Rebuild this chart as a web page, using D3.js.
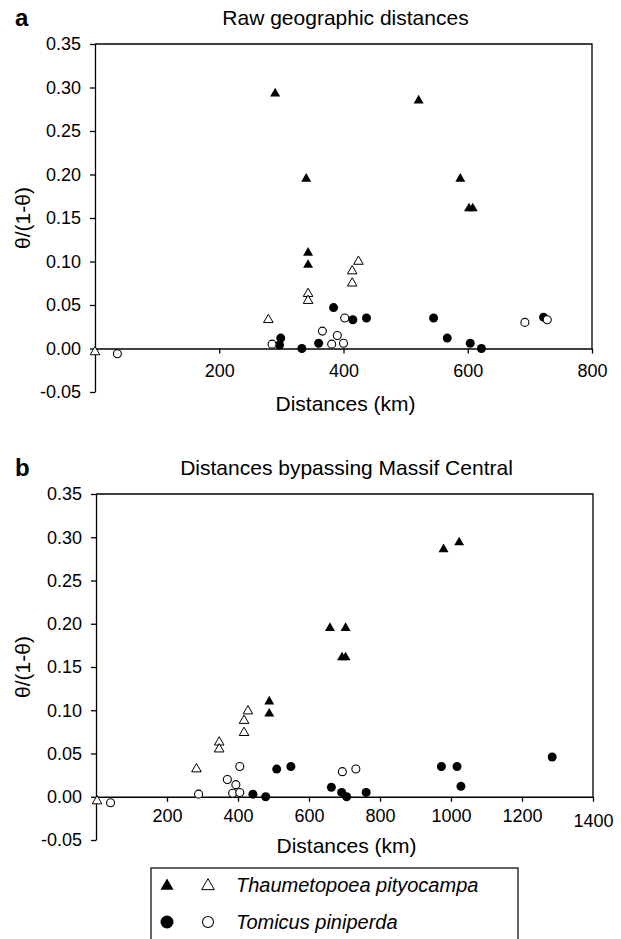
<!DOCTYPE html>
<html lang="en">
<head>
  <meta charset="UTF-8">
  <title>Distances</title>
  <style>
    body { margin: 0; background: #fff; }
    svg { display: block; font-family: "Liberation Sans", Arial, sans-serif; }
  </style>
</head>
<body>
  <svg id="grafico" width="621" height="939"></svg>

  <script src="https://d3js.org/d3.v7.min.js"></script>
  <script>
    // valores: [distancia km, theta/(1-theta)]
    const rawPityFilled = [[290,0.293],[340,0.195],[343,0.110],[343,0.096],[521,0.285],[588,0.195],[602,0.161],[608,0.161]];
    const rawPityOpen = [[0,-0.004],[279,0.033],[343,0.063],[343,0.055],[414,0.089],[414,0.075],[424,0.100]];
    const rawTomFilled = [[297,0.004],[299,0.012],[333,0.000],[360,0.006],[384,0.047],[415,0.033],[437,0.035],[545,0.035],[567,0.012],[604,0.006],[622,0.000],[722,0.036]];
    const rawTomOpen = [[36,-0.006],[285,0.005],[366,0.020],[381,0.005],[390,0.015],[400,0.006],[402,0.035],[692,0.030],[728,0.033]];

    const bypPityFilled = [[488,0.110],[488,0.096],[659,0.195],[703,0.195],[693,0.161],[703,0.161],[979,0.286],[1023,0.294]];
    const bypPityOpen = [[3,-0.005],[283,0.032],[347,0.063],[347,0.055],[417,0.074],[417,0.088],[428,0.099]];
    const bypTomFilled = [[442,0.003],[478,0.000],[509,0.032],[549,0.035],[663,0.011],[692,0.005],[706,0.000],[761,0.005],[973,0.035],[1017,0.035],[1028,0.012],[1285,0.046]];
    const bypTomOpen = [[41,-0.007],[289,0.003],[370,0.020],[385,0.004],[394,0.014],[405,0.005],[405,0.035],[694,0.029],[732,0.032]];

    const yTicks = [-0.05, 0, 0.05, 0.10, 0.15, 0.20, 0.25, 0.30, 0.35];
    const xTicksA = [200, 400, 600, 800];
    const xTicksB = [200, 400, 600, 800, 1000, 1200, 1400];
    const legendLabels = ['Thaumetopoea pityocampa', 'Tomicus piniperda'];

    const svg = d3.select('#grafico');
    const tri = d3.symbol().type(d3.symbolTriangle);

    function painel(cfg) {
      const x = d3.scaleLinear().domain([0, cfg.xMax]).range([cfg.left, cfg.right]);
      const y = d3.scaleLinear().domain([-0.05, 0.35]).range([cfg.bottom, cfg.top]);
      const g = svg.append('g');

      // letra e titulo
      g.append('text').attr('x', 15).attr('y', cfg.top - 18)
        .style('font-size', '24px').style('font-weight', 'bold').text(cfg.letra);
      g.append('text').attr('x', (cfg.left + cfg.right) / 2 + 2).attr('y', cfg.top - 19)
        .attr('text-anchor', 'middle').style('font-size', '21px').text(cfg.titulo);

      // moldura: topo e lado direito
      g.append('path')
        .attr('d', `M${cfg.left},${cfg.top}H${cfg.right}V${y(0)}`)
        .attr('fill', 'none').attr('stroke', '#000').attr('stroke-width', 1.3);

      // eixo y
      const ay = g.append('g').attr('transform', `translate(${cfg.left},0)`)
        .call(d3.axisLeft(y).tickValues(yTicks).tickSize(5).tickSizeOuter(0).tickPadding(9)
          .tickFormat(d => d.toFixed(2)));
      ay.selectAll('text').style('font-size', '18px').attr('fill', '#000');

      // eixo x na linha do zero
      const ax = g.append('g').attr('transform', `translate(0,${y(0)})`)
        .call(d3.axisBottom(x).tickValues(cfg.xTicks).tickSize(5).tickSizeOuter(0).tickPadding(cfg.pad)
          .tickFormat(d3.format('d')));
      ax.selectAll('text').style('font-size', '18px').attr('fill', '#000')
        .attr('dy', d => d === 1400 ? '1.0em' : '0.71em');
      g.selectAll('.domain, .tick line').attr('stroke', '#000').attr('stroke-width', 1.3);

      // rotulos dos eixos
      g.append('text').attr('x', (cfg.left + cfg.right) / 2 + 2).attr('y', y(0) + cfg.labelGap)
        .attr('text-anchor', 'middle').style('font-size', '21px').text('Distances (km)');
      g.append('text')
        .attr('transform', `translate(30,${(cfg.top + cfg.bottom) / 2}) rotate(-90)`)
        .attr('text-anchor', 'middle').style('font-size', '21px').text('θ/(1-θ)');

      // pontos
      g.selectAll('.tf').data(cfg.pityFilled).enter().append('path')
        .attr('d', tri.size(43)).attr('fill', '#000')
        .attr('transform', d => `translate(${x(d[0])},${y(d[1])})`);
      g.selectAll('.to').data(cfg.pityOpen).enter().append('path')
        .attr('d', tri.size(40)).attr('fill', '#fff').attr('stroke', '#000').attr('stroke-width', 1)
        .attr('transform', d => `translate(${x(d[0])},${y(d[1])})`);
      g.selectAll('.cf').data(cfg.tomFilled).enter().append('circle')
        .attr('cx', d => x(d[0])).attr('cy', d => y(d[1])).attr('r', 4.5).attr('fill', '#000');
      g.selectAll('.co').data(cfg.tomOpen).enter().append('circle')
        .attr('cx', d => x(d[0])).attr('cy', d => y(d[1])).attr('r', 4)
        .attr('fill', '#fff').attr('stroke', '#000').attr('stroke-width', 1.1);
    }

    painel({ letra: 'a', titulo: 'Raw geographic distances', xMax: 800, xTicks: xTicksA,
      left: 95, right: 592, top: 44, bottom: 392, pad: 11, labelGap: 62,
      pityFilled: rawPityFilled, pityOpen: rawPityOpen, tomFilled: rawTomFilled, tomOpen: rawTomOpen });

    painel({ letra: 'b', titulo: 'Distances bypassing Massif Central', xMax: 1400, xTicks: xTicksB,
      left: 96, right: 593, top: 494, bottom: 840, pad: 7, labelGap: 56,
      pityFilled: bypPityFilled, pityOpen: bypPityOpen, tomFilled: bypTomFilled, tomOpen: bypTomOpen });

    // legenda
    const leg = svg.append('g');
    leg.append('rect').attr('x', 151).attr('y', 868).attr('width', 367).attr('height', 100)
      .attr('fill', 'none').attr('stroke', '#333').attr('stroke-width', 1.5);
    const linhas = [885, 922];
    leg.append('path').attr('d', tri.size(75)).attr('fill', '#000')
      .attr('transform', `translate(167,${linhas[0] + 1})`);
    leg.append('path').attr('d', tri.size(70)).attr('fill', '#fff').attr('stroke', '#000').attr('stroke-width', 1)
      .attr('transform', `translate(208,${linhas[0] + 1})`);
    leg.append('circle').attr('cx', 167).attr('cy', linhas[1]).attr('r', 6.5).attr('fill', '#000');
    leg.append('circle').attr('cx', 208).attr('cy', linhas[1]).attr('r', 5.5)
      .attr('fill', '#fff').attr('stroke', '#000').attr('stroke-width', 1.1);
    leg.selectAll('.lt').data(legendLabels).enter().append('text')
      .attr('x', 236).attr('y', (d, i) => linhas[i] + 7)
      .style('font-size', '20px').style('font-style', 'italic').text(d => d);
  </script>
</body>
</html>
